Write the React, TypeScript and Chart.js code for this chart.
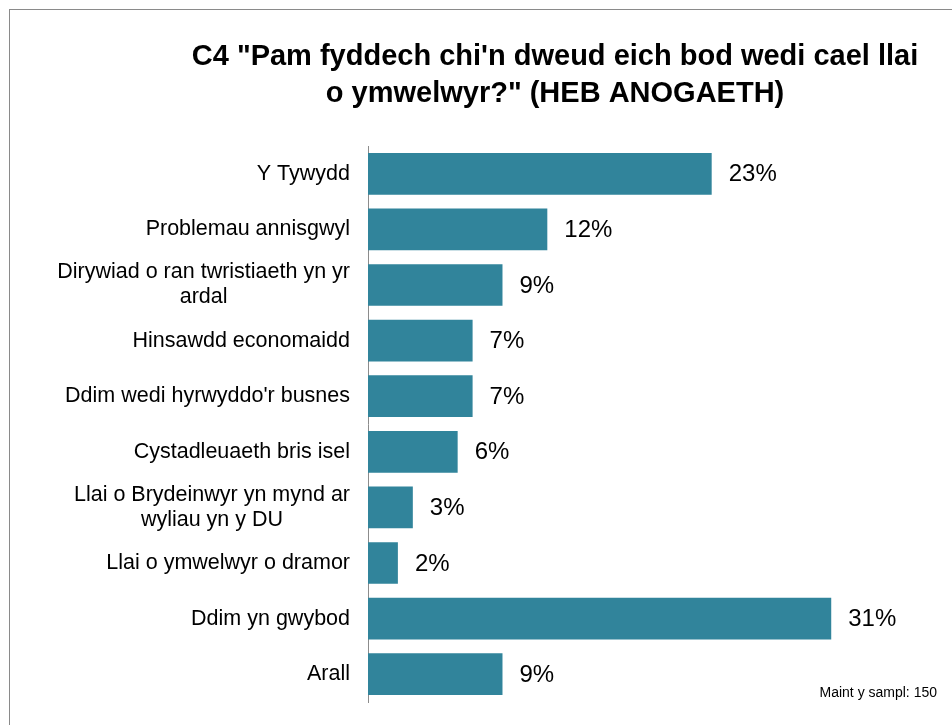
import React, { useEffect, useRef } from "react";
import { Chart, registerables } from "chart.js";
Chart.register(...registerables);

const categories: string[][] = [
  ["Y Tywydd"],
  ["Problemau annisgwyl"],
  ["Dirywiad o ran twristiaeth yn yr", "ardal"],
  ["Hinsawdd economaidd"],
  ["Ddim wedi hyrwyddo'r busnes"],
  ["Cystadleuaeth bris isel"],
  ["Llai o Brydeinwyr yn mynd ar", "wyliau yn y DU"],
  ["Llai o ymwelwyr o dramor"],
  ["Ddim yn gwybod"],
  ["Arall"],
];
const values: number[] = [23, 12, 9, 7, 7, 6, 3, 2, 31, 9];
const titleLines: string[] = [
  'C4 "Pam fyddech chi\'n dweud eich bod wedi cael llai',
  'o ymwelwyr?" (HEB ANOGAETH)',
];
const sampleNote = "Maint y sampl: 150";

const FONT = '"Liberation Sans", Arial, sans-serif';
const BAR_COLOR = "#31849B";

const overlayPlugin = {
  id: "overlay",
  beforeDraw(chart: any) {
    const ctx = chart.ctx;
    ctx.save();
    ctx.fillStyle = "#ffffff";
    ctx.fillRect(0, 0, chart.width, chart.height);
    ctx.strokeStyle = "#8a8a8a";
    ctx.lineWidth = 1;
    ctx.strokeRect(9.5, 9.5, chart.width + 50, chart.height + 50);
    ctx.restore();
  },
  afterDraw(chart: any) {
    const ctx = chart.ctx;
    const yScale = chart.scales.y;
    const area = chart.chartArea;
    ctx.save();
    // title
    ctx.fillStyle = "#000";
    ctx.font = `bold 29px ${FONT}`;
    ctx.textAlign = "center";
    ctx.textBaseline = "middle";
    titleLines.forEach((line, i) => {
      ctx.fillText(line, 555, 57 + i * 37);
    });
    // category labels
    ctx.font = `21.5px ${FONT}`;
    const lineH = 25;
    categories.forEach((lines, i) => {
      const yc = yScale.getPixelForValue(i);
      const widths = lines.map((l) => ctx.measureText(l).width);
      const maxW = Math.max(...widths);
      const cx = area.left - 18 - maxW / 2;
      ctx.textAlign = "center";
      lines.forEach((l, j) => {
        const y = yc + (j - (lines.length - 1) / 2) * lineH;
        ctx.fillText(l, cx, y);
      });
    });
    // value labels
    const meta = chart.getDatasetMeta(0);
    ctx.font = `24px ${FONT}`;
    ctx.textAlign = "left";
    meta.data.forEach((bar: any, i: number) => {
      ctx.fillText(values[i] + "%", bar.x + 17, bar.y + 1);
    });
    // sample note
    ctx.font = `14px ${FONT}`;
    ctx.textAlign = "right";
    ctx.fillText(sampleNote, 937, 693);
    ctx.restore();
  },
};

export default function App() {
  const ref = useRef<HTMLCanvasElement | null>(null);
  useEffect(() => {
    if (!ref.current) return;
    const chart = new Chart(ref.current, {
      type: "bar",
      data: {
        labels: categories.map((c) => c.join(" ")),
        datasets: [
          {
            data: values,
            backgroundColor: BAR_COLOR,
            borderWidth: 0,
            barPercentage: 0.75,
            categoryPercentage: 1,
          },
        ],
      },
      options: {
        indexAxis: "y",
        animation: false,
        responsive: false,
        maintainAspectRatio: false,
        devicePixelRatio: 1,
        layout: { padding: { top: 146, bottom: 23, left: 0, right: 61 } },
        plugins: {
          legend: { display: false },
          title: { display: false },
          tooltip: { enabled: false },
        },
        scales: {
          x: { display: false, min: 0, max: 35 },
          y: {
            grid: { display: false, drawTicks: false },
            border: { display: true, color: "#8c8c8c", width: 1 },
            ticks: { display: false },
            afterFit: (scale: any) => {
              scale.width = 368;
            },
          },
        },
      },
      plugins: [overlayPlugin],
    });
    return () => chart.destroy();
  }, []);
  return (
    <div style={{ position: "absolute", left: 0, top: 0, width: 952, height: 725 }}>
      <canvas ref={ref} width={952} height={725} style={{ display: "block" }} />
    </div>
  );
}
